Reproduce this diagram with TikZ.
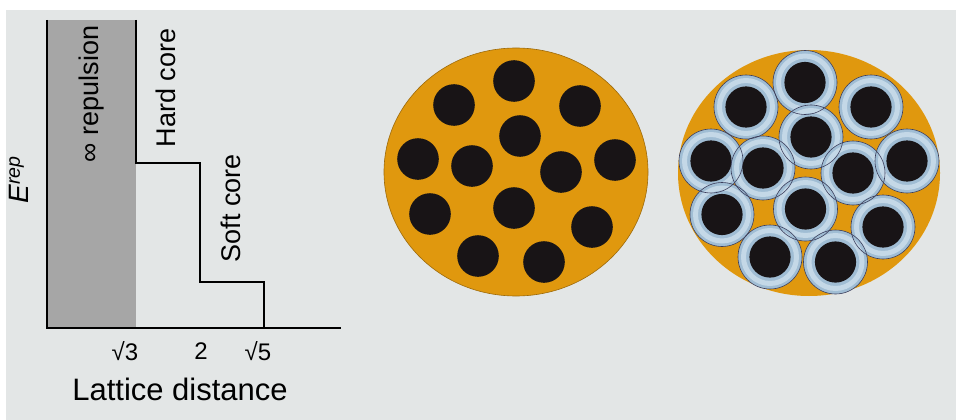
\documentclass[tikz,border=0pt]{standalone}
\usepackage{fontspec}
\setmainfont{Liberation Sans}
\usetikzlibrary{positioning}

\definecolor{paper}{RGB}{227,230,230}
\definecolor{coreorange}{RGB}{224,152,14}
\definecolor{dotblack}{RGB}{24,20,22}
\definecolor{shellblue}{RGB}{160,189,212}
\definecolor{shelllight}{RGB}{196,216,231}
\definecolor{shelledge}{RGB}{60,62,92}
\definecolor{repgray}{RGB}{166,166,166}

\begin{document}
\begin{tikzpicture}[x=1pt, y=-1pt, line width=1.5pt,
    vlabel/.style={rotate=90, font=\fontsize{27}{30}\selectfont},
    ticklabel/.style={font=\fontsize{24}{28}\selectfont}]
    \useasboundingbox (0,0) rectangle (956,420);
    \fill[white] (0,0) rectangle (956,420);
    \fill[paper] (6,10) rectangle (956,420);

    % repulsion energy steps
    \coordinate (top) at (47,20);
    \coordinate (origin) at (47,328);
    \coordinate (xend) at (341,328);
    \fill[repgray] (top) rectangle (136,328);
    \draw (top) -- (origin) -- (xend);
    \draw (136,20) -- (136,163) -- (200,163) -- (200,282) -- (264,282) -- (264,328);

    \node[vlabel] (repulsion) at (92,94) {∞ repulsion};
    \node[vlabel] (hard) at (166,88) {Hard core};
    \node[vlabel] (soft) at (231,208) {Soft core};
    \node[rotate=90, font=\fontsize{28}{32}\selectfont] (erep) at (19,180) {\textit{E}\textsuperscript{\textit{rep}}};

    \node[ticklabel] (sqrt3) at (125,351) {√3};
    \node[ticklabel] (two) at (201,351) {2};
    \node[ticklabel] (sqrt5) at (258,351) {√5};
    \node[font=\fontsize{31}{36}\selectfont] (xlabel) at (180,389) {Lattice distance};

    % bundle, bare cores
    \fill[coreorange, draw=coreorange!70!black, line width=0.6pt] (516,172) ellipse [x radius=132, y radius=124];
    \foreach \x/\y in {514/81, 454/105, 580/106, 520/136, 418/159, 472/166, 561/172,
                       615/160, 430/214, 514/208, 592/227, 478/256, 544/262}
        \fill[dotblack] (\x,\y) circle [radius=20.8];

    % bundle, cores with soft shells
    \fill[coreorange] (809,173) ellipse [x radius=131, y radius=123];
    \foreach \x/\y in {805/82.5, 746/107, 871/107, 811/137, 711/161, 763/168, 853/173,
                       907/161, 722/214.5, 805.5/209, 883/227, 770/257, 835.5/262} {
        \fill[shellblue] (\x,\y) circle [radius=32];
        \draw[shelllight, line width=5pt] (\x,\y) circle [radius=26.5];
    }
    \foreach \x/\y in {805/82.5, 746/107, 871/107, 811/137, 711/161, 763/168, 853/173,
                       907/161, 722/214.5, 805.5/209, 883/227, 770/257, 835.5/262} {
        \draw[shelledge, line width=0.6pt] (\x,\y) circle [radius=32];
        \fill[dotblack] (\x,\y) circle [radius=20.6];
    }
\end{tikzpicture}
\end{document}
